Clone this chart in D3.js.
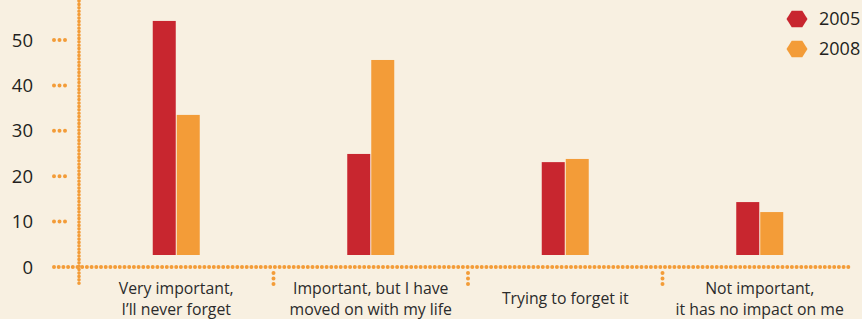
<!DOCTYPE html>
<html>
<head>
<meta charset="utf-8">
<title>Memory chart</title>
<script src="https://cdn.jsdelivr.net/npm/d3@7"></script>
<style>
  body { margin: 0; background: #f8f0e1; }
  svg { display: block; }
  text { font-family: "Open Sans", "Noto Sans", sans-serif; fill: #231f20; }
</style>
</head>
<body>
<script>
// data
var categories = [
  ["Very important,", "I\u2019ll never forget"],
  ["Important, but I have", "moved on with my life"],
  ["Trying to forget it"],
  ["Not important,", "it has no impact on me"]
];
var years = ["2005", "2008"];
var values2005 = [54.2, 24.9, 23.1, 14.3];
var values2008 = [33.5, 45.6, 23.8, 12.1];
var yTicks = [0, 10, 20, 30, 40, 50];

var w = 862, h = 319;
var colors = { "2005": "#c8262f", "2008": "#f39c38" };
var dotColor = "#f39c38";

var svg = d3.select("body").append("svg")
    .attr("width", w)
    .attr("height", h);

var x = d3.scaleBand()
    .domain(d3.range(categories.length))
    .range([79, 857])
    .padding(0);

var y = d3.scaleLinear()
    .domain([0, 50])
    .range([267, 40]);

var barW = 23;
var baseGap = 12; // bars float a little above the zero line, as in the original

function dotted(x1, y1, x2, y2, gap, sw) {
  svg.append("line")
      .attr("x1", x1).attr("y1", y1)
      .attr("x2", x2).attr("y2", y2)
      .attr("stroke", dotColor)
      .attr("stroke-width", sw || 4)
      .attr("stroke-linecap", "round")
      .attr("stroke-dasharray", "0," + gap);
}

// y axis and zero line
dotted(79, 1, 79, 286, 3.4, 3.6);
dotted(54, y(0), 852, y(0), 4.7);

// y ticks: three dots each
yTicks.filter(function(d) { return d > 0; }).forEach(function(t) {
  dotted(54, y(t), 66, y(t), 5.5);
});

svg.selectAll("text.ytick")
    .data(yTicks)
    .enter().append("text")
    .attr("class", "ytick")
    .attr("x", 33)
    .attr("y", function(d) { return y(d); })
    .attr("dy", "0.36em")
    .attr("text-anchor", "end")
    .attr("font-size", 18.5)
    .text(function(d) { return d; });

// category separators below the axis
d3.range(1, categories.length).forEach(function(i) {
  dotted(x(i), 273, x(i), 285, 5.5);
});

// bars
var series = [values2005, values2008];
series.forEach(function(vals, s) {
  svg.selectAll("rect.s" + s)
      .data(vals)
      .enter().append("rect")
      .attr("class", "s" + s)
      .attr("x", function(d, i) {
        var c = x(i) + x.bandwidth() / 2;
        return s === 0 ? c - barW - 0.5 : c + 0.5;
      })
      .attr("y", function(d) { return y(d); })
      .attr("width", barW)
      .attr("height", function(d) { return y(0) - baseGap - y(d); })
      .attr("fill", colors[years[s]]);
});

// category labels
var lab = svg.selectAll("text.cat")
    .data(categories)
    .enter().append("text")
    .attr("class", "cat")
    .attr("text-anchor", "middle")
    .attr("font-size", 15.8)
    .style("fill", "#2b2b2b");

lab.each(function(lines, i) {
  var t = d3.select(this);
  var cx = x(i) + x.bandwidth() / 2;
  var y0 = lines.length === 1 ? 298 : 288;
  lines.forEach(function(l, j) {
    t.append("tspan")
        .attr("x", cx)
        .attr("y", y0 + j * 21)
        .attr("dy", "0.36em")
        .text(l);
  });
});

// legend with hexagon markers
var hex = d3.range(6).map(function(k) {
  var a = Math.PI / 3 * k;
  return [10.5 * Math.cos(a), 9.5 * Math.sin(a)];
});
var legend = svg.selectAll("g.legend")
    .data(years)
    .enter().append("g")
    .attr("class", "legend")
    .attr("transform", function(d, i) { return "translate(797," + (19 + i * 30) + ")"; });

legend.append("polygon")
    .attr("points", hex.map(function(p) { return p.join(","); }).join(" "))
    .attr("fill", function(d) { return colors[d]; });

legend.append("text")
    .attr("x", 22)
    .attr("dy", "0.36em")
    .attr("font-size", 18)
    .text(function(d) { return d; });
</script>
</body>
</html>
